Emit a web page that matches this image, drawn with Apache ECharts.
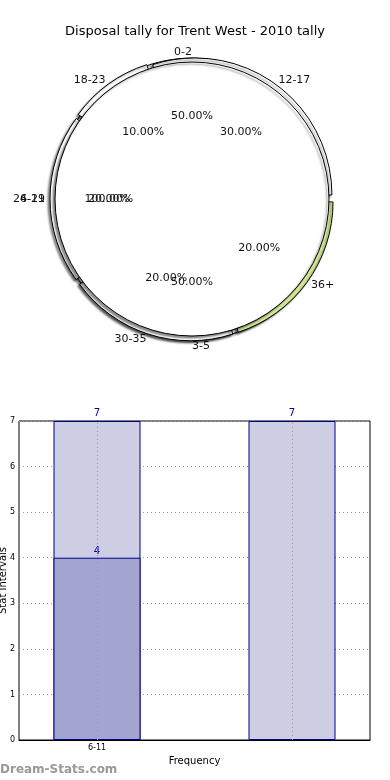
<!DOCTYPE html>
<html>
<head>
<meta charset="utf-8">
<script src="https://cdn.jsdelivr.net/npm/echarts@6/dist/echarts.min.js"></script>
<style>
html,body{margin:0;padding:0;background:#fff;}
#c{width:390px;height:780px;}
</style>
</head>
<body>
<div id="c"></div>
<script>
// ---- data ----
const titleText = 'Disposal tally for Trent West - 2010 tally';
// pie layer A
const layerANames = ['0-2', '3-5'];
const layerAValues = [50, 50];
const layerAColors = ['#ffffff', '#e9effc'];
// pie layer B
const layerBNames = ['12-17', '18-23', '24-29', '30-35', '36+'];
const layerBValues = [30, 10, 20, 20, 20];
const layerBColors = ['#ffffff', '#ffffff', '#ffffff', '#ffffff', '#d3ea98'];
// pie layer C
const layerCNames = ['6-11'];
const layerCValues = [100];
const layerCColors = ['#ffffff'];
// bar chart
const barCategories = ['6-11', ''];
const barPositions = [0, 1];
const barTotals = [7, 7];
const barSubsetPositions = [0];
const barSubset = [4];
const yTicks = [0, 1, 2, 3, 4, 5, 6, 7];

const FONT = 'DejaVu Sans';
const R = 137;
const CX = 192, CY = 199;

function pieLayer(names, values, colors, offset, z) {
  return {
    type: 'pie',
    z: z,
    center: [CX, CY],
    radius: [0, R],
    startAngle: 0,
    clockwise: false,
    avoidLabelOverlap: false,
    selectedMode: 'multiple',
    selectedOffset: offset,
    silent: true,
    animation: false,
    labelLayout: { hideOverlap: false },
    label: {
      show: true, position: 'outside', fontFamily: FONT, fontSize: 11, color: '#111',
      distanceToLabelLine: 0
    },
    labelLine: { show: false, length: 10 - offset, length2: 0 },
    itemStyle: {
      borderColor: '#000', borderWidth: 1,
      shadowColor: 'rgba(0,0,0,0.45)', shadowBlur: 2, shadowOffsetX: -2, shadowOffsetY: 2
    },
    data: names.map((n, i) => ({
      name: n, value: values[i], selected: offset > 0,
      itemStyle: { color: colors[i] }
    }))
  };
}

function pctLayer(names, values, z) {
  return {
    type: 'pie',
    z: z,
    center: [CX, CY],
    radius: [0, R * 1.17],
    startAngle: 0,
    clockwise: false,
    avoidLabelOverlap: false,
    silent: true,
    animation: false,
    labelLayout: { hideOverlap: false },
    label: {
      show: true, position: 'inside', fontFamily: FONT, fontSize: 11, color: '#111',
      formatter: p => values[p.dataIndex].toFixed(2) + '%'
    },
    labelLine: { show: false },
    itemStyle: { color: 'rgba(0,0,0,0)', borderWidth: 0 },
    data: names.map((n, i) => ({ name: n, value: values[i] }))
  };
}

const chart = echarts.init(document.getElementById('c'), null, { renderer: 'canvas' });
chart.setOption({
  animation: false,
  backgroundColor: '#fff',
  title: {
    text: titleText, left: 'center', top: 20,
    textStyle: { fontFamily: FONT, fontSize: 13, fontWeight: 'normal', color: '#000' }
  },
  graphic: [{
    type: 'text', left: 0, top: 764,
    style: { text: 'Dream-Stats.com', font: 'bold 12px "DejaVu Sans"', fill: '#999' }
  }],
  grid: {
    left: 19, right: 20, top: 421, bottom: 40,
    outerBoundsMode: 'none', containLabel: false,
    show: true, borderColor: '#000', borderWidth: 1, backgroundColor: 'transparent'
  },
  xAxis: {
    type: 'value', min: -0.4, max: 1.4,
    name: 'Frequency', nameLocation: 'middle', nameGap: 16,
    nameMoveOverlap: false,
    nameTextStyle: { fontFamily: FONT, fontSize: 10, color: '#000' },
    axisLine: { show: true, lineStyle: { color: '#000' } },
    axisTick: { show: true, inside: true, length: 3, customValues: barPositions, lineStyle: { color: '#000' } },
    axisLabel: {
      customValues: barPositions, fontFamily: FONT, fontSize: 8, color: '#000', margin: 4,
      formatter: v => barCategories[barPositions.indexOf(Math.round(v))] || ''
    },
    splitLine: { show: false }
  },
  yAxis: {
    type: 'value', min: 0, max: 7, interval: 1,
    name: 'Stat Intervals', nameLocation: 'middle', nameGap: 11,
    nameMoveOverlap: false,
    nameTextStyle: { fontFamily: FONT, fontSize: 10, color: '#000' },
    axisLine: { show: true, lineStyle: { color: '#000' } },
    axisTick: { show: true, inside: true, length: 3, lineStyle: { color: '#000' } },
    axisLabel: { fontFamily: FONT, fontSize: 8, color: '#000', margin: 4,
      formatter: v => yTicks.includes(v) ? String(v) : '' },
    splitLine: { show: true, lineStyle: { type: [1, 3], color: '#999', width: 1 } }
  },
  series: [
    pieLayer(layerANames, layerAValues, layerAColors, 4, 2),
    pieLayer(layerBNames, layerBValues, layerBColors, 5, 3),
    pieLayer(layerCNames, layerCValues, layerCColors, 0, 4),
    pctLayer(layerANames, layerAValues, 5),
    pctLayer(layerBNames, layerBValues, 5),
    pctLayer(layerCNames, layerCValues, 5),
    {
      type: 'bar', z: 2,
      barWidth: 87, barGap: '-100%',
      data: barPositions.map((x, i) => [x, barTotals[i]]),
      itemStyle: { color: '#cdcde4', borderColor: '#00008b', borderWidth: 1 },
      label: { show: true, position: 'top', distance: 3, fontFamily: FONT, fontSize: 10, color: '#0000aa' },
      markLine: {
        silent: true, symbol: 'none', animation: false,
        label: { show: false },
        lineStyle: { type: [1, 3], color: '#999', width: 1 },
        data: barPositions.map(x => ({ xAxis: x }))
      }
    },
    {
      type: 'bar', z: 3,
      barWidth: 87, barGap: '-100%',
      data: barSubsetPositions.map((x, i) => [x, barSubset[i]]),
      itemStyle: { color: '#a3a5d1', borderColor: '#00008b', borderWidth: 1 },
      label: { show: true, position: 'top', distance: 1, fontFamily: FONT, fontSize: 10, color: '#0000aa' }
    }
  ]
});
</script>
</body>
</html>
